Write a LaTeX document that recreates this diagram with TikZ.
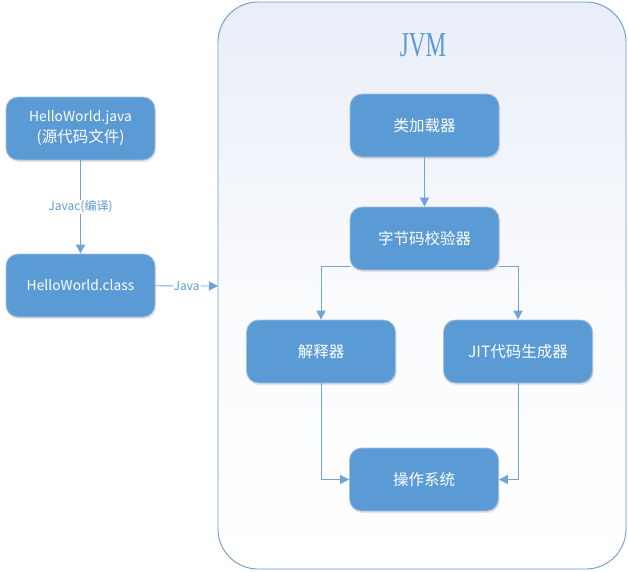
\documentclass[tikz,border=0pt]{standalone}
\usepackage{fontspec}
\setmainfont{Noto Sans CJK SC}
\newfontfamily\jvmfont{Liberation Serif}
\usetikzlibrary{arrows.meta,shadows,positioning}
\definecolor{boxblue}{HTML}{5B9BD5}
\definecolor{boxedge}{HTML}{A8C0DC}
\definecolor{linkblue}{HTML}{6FA3DA}
\definecolor{frameedge}{HTML}{6C9BD0}
\definecolor{framefill}{HTML}{E8EDF8}
\newcommand{\latinsize}{\fontsize{13.8}{17}\selectfont}
\tikzset{
  procbox/.style={draw=boxedge, line width=0.8pt, fill=boxblue, rounded corners=12pt,
    minimum width=149pt, minimum height=63pt, text=white, font=\fontsize{15.5}{21}\selectfont,
    align=center, inner sep=0pt,
    drop shadow={shadow xshift=1pt, shadow yshift=-2pt, opacity=0.25, fill=black!40}},
  link/.style={draw=linkblue, line width=0.9pt, -{Triangle[length=9pt,width=9pt]}},
  linklabel/.style={fill=white, text=boxblue, inner sep=1pt, font=\fontsize{12}{14}\selectfont},
}
\begin{document}
\begin{tikzpicture}[x=1pt,y=-1pt]
\useasboundingbox (0,0) rectangle (628,571);
% JVM container
\path[shade, shading angle=30, top color=framefill, bottom color=white, middle color=framefill!25, rounded corners=40pt]
  (218,2) rectangle (626,569);
\draw[frameedge, line width=0.9pt, rounded corners=40pt] (218,2) rectangle (626,569);
\coordinate (jvmleft) at (218,286);
\node[text=boxblue, inner sep=0pt] (jvm) at (423,45) {\scalebox{0.66}[1]{\jvmfont\fontsize{35}{38}\selectfont JVM}};

% left nodes
\node[procbox] (src) at (80.5,128.5) {{\latinsize HelloWorld.java}\\(源代码文件)};
\node[procbox] (cls) at (80.5,285.5) {\latinsize HelloWorld.class};

% JVM nodes
\node[procbox] (loader) at (424.5,125.5) {类加载器};
\node[procbox] (verify) at (424.5,238.5) {字节码校验器};
\node[procbox] (interp) at (321,351.5) {解释器};
\node[procbox] (jit) at (518,351.5) {JIT代码生成器};
\node[procbox] (os) at (424,479.5) {操作系统};

% connectors
\draw[link] (src) -- node[linklabel] {Javac(编译)} (cls);
\draw[link] (cls) -- node[linklabel] {Java} (jvmleft);
\draw[link] (loader) -- (verify);
\draw[link] ([yshift=4pt]verify.south west) -| (interp.north);
\draw[link] ([yshift=4pt]verify.south east) -| (jit.north);
\draw[link] (interp.south) |- (os.west);
\draw[link] (jit.south) |- (os.east);
\end{tikzpicture}
\end{document}
